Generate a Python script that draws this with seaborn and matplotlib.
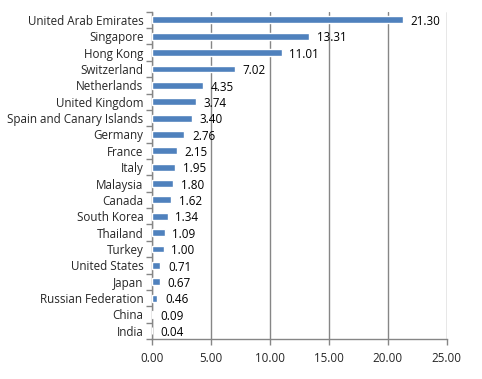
import matplotlib
matplotlib.use("Agg")
import matplotlib.pyplot as plt
import seaborn as sns
import numpy as np
import pandas as pd

countries = ["United Arab Emirates", "Singapore", "Hong Kong", "Switzerland",
             "Netherlands", "United Kingdom", "Spain and Canary Islands",
             "Germany", "France", "Italy", "Malaysia", "Canada", "South Korea",
             "Thailand", "Turkey", "United States", "Japan",
             "Russian Federation", "China", "India"]
values = [21.30, 13.31, 11.01, 7.02, 4.35, 3.74, 3.40, 2.76, 2.15, 1.95,
          1.80, 1.62, 1.34, 1.09, 1.00, 0.71, 0.67, 0.46, 0.09, 0.04]
xticks = [0, 5, 10, 15, 20, 25]

df = pd.DataFrame({"country": countries, "value": values})

sns.set_style("white")
plt.rcParams["font.family"] = ["Open Sans", "DejaVu Sans"]

fig = plt.figure(figsize=(4.82, 3.79), dpi=100)
ax = fig.add_axes([0.315, 0.1055, 0.612, 0.8635])

grid_color = "#868686"
ax.set_axisbelow(True)
ax.xaxis.grid(True, color=grid_color, linewidth=1.0)

sns.barplot(data=df, x="value", y="country", orient="h", color="#4F81BD",
            saturation=1, width=0.42, ax=ax, zorder=3)

for i, v in enumerate(values):
    ax.text(v + 0.65, i + 0.1, f"{v:.2f}", va="center", ha="left", fontsize=8.4, color="#000000")

ax.set_xlim(0, 25)
ax.set_ylim(len(countries) - 0.5, -0.5)
ax.set_xticks(xticks)
ax.set_xticklabels([f"{t:.2f}" for t in xticks], fontsize=8.4)
ax.set_yticks(range(len(countries)))
ax.set_yticklabels(countries, fontsize=8.4)
ax.set_yticks(np.arange(-0.5, len(countries), 1), minor=True)
ax.tick_params(axis="y", which="major", length=0, pad=6)
ax.tick_params(axis="y", which="minor", length=4, color=grid_color, width=1, direction="out", left=True)
ax.tick_params(axis="x", length=4, color=grid_color, width=1, direction="out", bottom=True, pad=5)
ax.set_xlabel("")
ax.set_ylabel("")

for s in ["top", "right"]:
    ax.spines[s].set_visible(False)
for s in ["left", "bottom"]:
    ax.spines[s].set_color(grid_color)
    ax.spines[s].set_linewidth(1.0)

fig.savefig("out.png", dpi=100)
